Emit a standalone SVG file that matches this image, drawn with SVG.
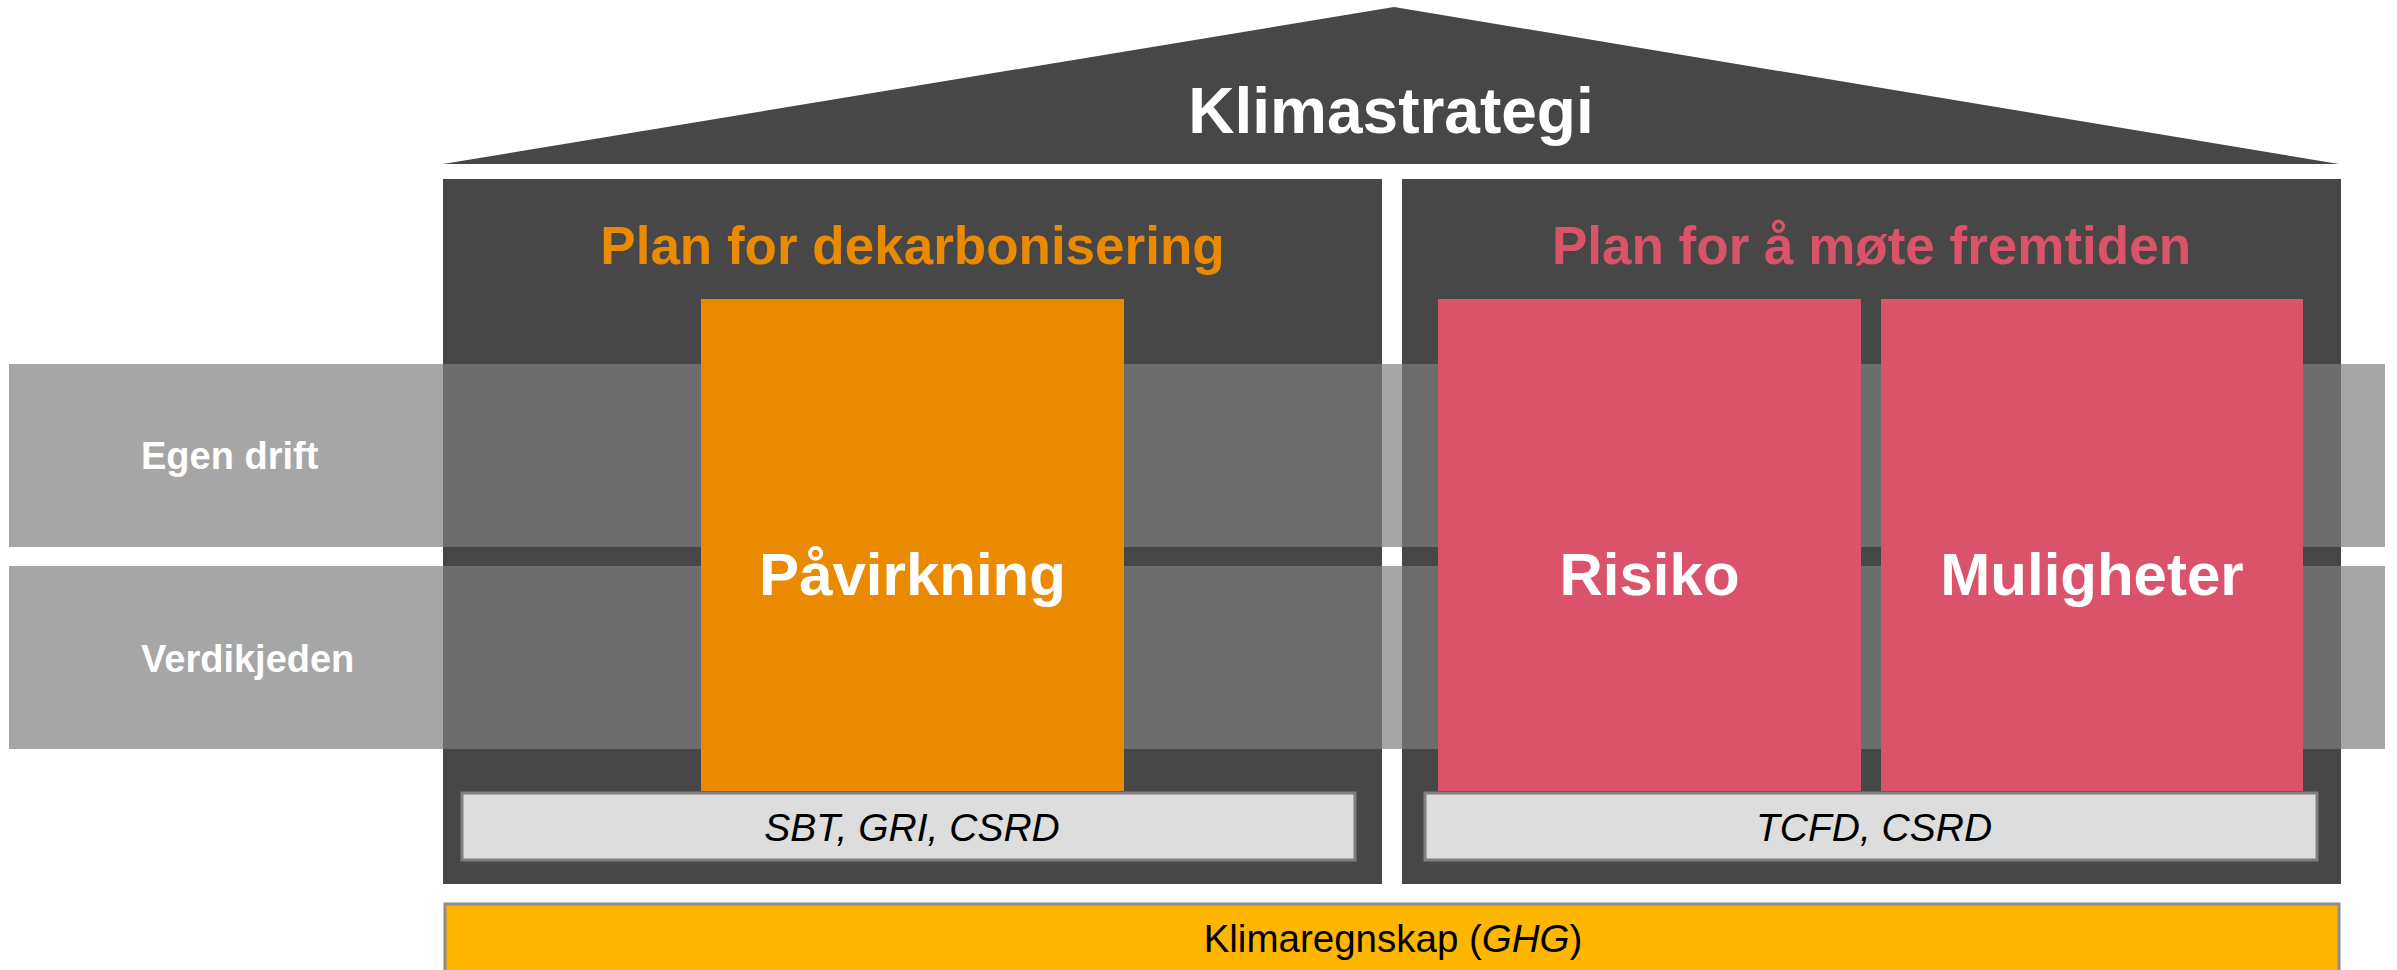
<svg xmlns="http://www.w3.org/2000/svg" width="2397" height="970" viewBox="0 0 2397 970">
<style>
.dark{fill:#474747}
.band{fill:#7e7e7e;fill-opacity:0.69}
.lbl{fill:#dddddd;stroke:#7f7f7f;stroke-width:3}
.t{font-family:"Liberation Sans",Arial,sans-serif}
.b{font-weight:bold}
.w{fill:#ffffff}
</style>
<rect width="2397" height="970" fill="#ffffff"/>
<g id="roof">
<polygon class="dark" points="443,164 1394,7 2339,164"/>
<text class="t b w" x="1391" y="133" font-size="64" text-anchor="middle">Klimastrategi</text>
</g>
<g id="plan-dekarbonisering">
<rect class="dark" x="443" y="179" width="939" height="705"/>
<text class="t b" x="912.5" y="264" font-size="53" fill="#ea8a00" text-anchor="middle">Plan for dekarbonisering</text>
</g>
<g id="plan-fremtiden">
<rect class="dark" x="1402" y="179" width="939" height="705"/>
<text class="t b" x="1871.5" y="264" font-size="53" fill="#db536a" text-anchor="middle">Plan for å møte fremtiden</text>
</g>
<g id="egen-drift">
<rect class="band" x="9" y="364" width="2376" height="183"/>
<text class="t b w" x="141" y="469" font-size="38">Egen drift</text>
</g>
<g id="verdikjeden">
<rect class="band" x="9" y="566" width="2376" height="183"/>
<text class="t b w" x="141" y="672" font-size="38">Verdikjeden</text>
</g>
<g id="pavirkning">
<rect x="701" y="299" width="423" height="492" fill="#ea8a00"/>
<text class="t b w" x="912.5" y="595" font-size="60" text-anchor="middle">Påvirkning</text>
</g>
<g id="risiko">
<rect x="1438" y="299" width="423" height="492" fill="#db536a"/>
<text class="t b w" x="1649.5" y="595" font-size="60" text-anchor="middle">Risiko</text>
</g>
<g id="muligheter">
<rect x="1881" y="299" width="422" height="492" fill="#db536a"/>
<text class="t b w" x="2092" y="595" font-size="60" text-anchor="middle">Muligheter</text>
</g>
<g id="sbt-gri-csrd">
<rect class="lbl" x="462" y="793" width="893" height="67"/>
<text class="t" x="912" y="841" font-size="39" font-style="italic" fill="#000000" text-anchor="middle">SBT, GRI, CSRD</text>
</g>
<g id="tcfd-csrd">
<rect class="lbl" x="1425" y="793" width="892" height="67"/>
<text class="t" x="1874" y="841" font-size="39" font-style="italic" fill="#000000" text-anchor="middle">TCFD, CSRD</text>
</g>
<g id="klimaregnskap">
<rect x="445" y="904" width="1894" height="80" fill="#ffb600" stroke="#8c8c8c" stroke-width="3"/>
<text class="t" x="1393" y="952" font-size="38.5" fill="#000000" text-anchor="middle">Klimaregnskap (<tspan font-style="italic">GHG</tspan>)</text>
</g>
<g id="connectors"/>
</svg>
